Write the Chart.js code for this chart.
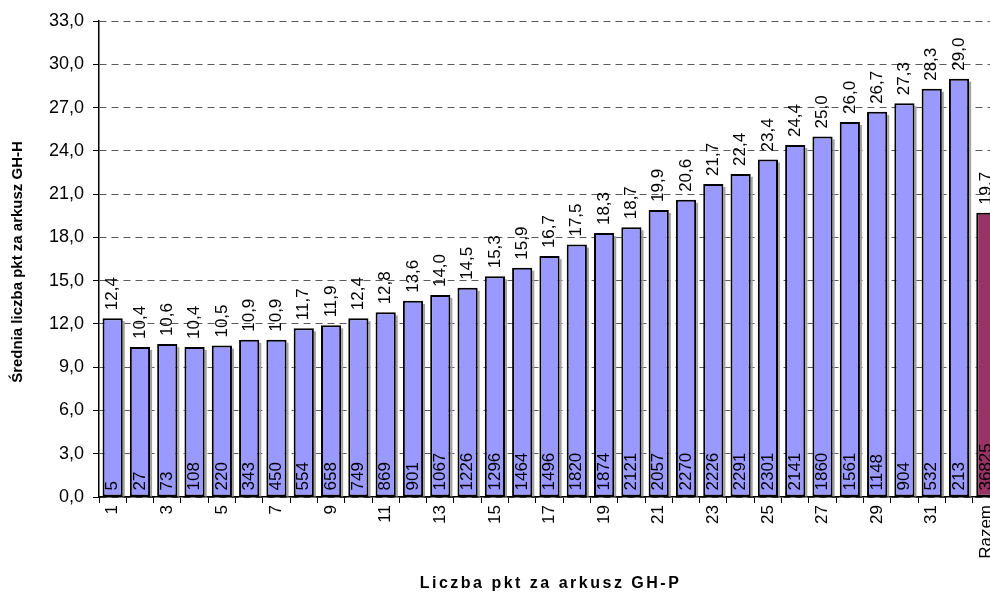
<!DOCTYPE html>
<html>
<head>
<meta charset="utf-8">
<script src="https://cdn.jsdelivr.net/npm/chart.js@4/dist/chart.umd.min.js"></script>
<style>
html,body{margin:0;padding:0;background:#fff;overflow:hidden;width:990px;height:592px;}
#wrap{position:absolute;left:0;top:0;width:1010px;height:592px;}
</style>
</head>
<body>
<div id="wrap"><canvas id="c" width="1010" height="592"></canvas></div>
<script>
const categories = ['1','2','3','4','5','6','7','8','9','10','11','12','13','14','15','16','17','18','19','20','21','22','23','24','25','26','27','28','29','30','31','32','Razem'];
const averages = [12.4,10.4,10.6,10.4,10.5,10.9,10.9,11.7,11.9,12.4,12.8,13.6,14.0,14.5,15.3,15.9,16.7,17.5,18.3,18.7,19.9,20.6,21.7,22.4,23.4,24.4,25.0,26.0,26.7,27.3,28.3,29.0,19.7];
const counts = [5,27,73,108,220,343,450,554,658,749,869,901,1067,1226,1296,1464,1496,1820,1874,2121,2057,2270,2226,2291,2301,2141,1860,1561,1148,904,532,213,36825];
const yTicks = [0,3,6,9,12,15,18,21,24,27,30,33];
const xTitle = 'Liczba pkt za arkusz GH-P';
const yTitle = 'Średnia liczba pkt za arkusz GH-H';

const fmt = v => v.toFixed(1).replace('.', ',');
const barColors = categories.map(c => c === 'Razem' ? '#993366' : '#9999FF');

const shadowPlugin = {
  id: 'shadow',
  beforeDatasetsDraw(chart) {
    const ctx = chart.ctx;
    const meta = chart.getDatasetMeta(0);
    ctx.save();
    ctx.fillStyle = '#a0a0a0';
    meta.data.forEach(el => {
      const w = el.width;
      ctx.fillRect(el.x + w / 2, el.y + 3, 2, el.base - el.y - 3);
    });
    ctx.restore();
  }
};

const labelPlugin = {
  id: 'labels',
  afterDatasetsDraw(chart) {
    const ctx = chart.ctx;
    const meta = chart.getDatasetMeta(0);
    ctx.save();
    ctx.fillStyle = '#000';
    ctx.font = '17px Arial, "Liberation Sans", sans-serif';
    ctx.textBaseline = 'middle';
    ctx.textAlign = 'left';
    meta.data.forEach((el, i) => {
      ctx.save();
      ctx.translate(el.x, el.y - 8);
      ctx.rotate(-Math.PI / 2);
      ctx.fillText(fmt(averages[i]), 0, 0);
      ctx.restore();
      ctx.save();
      ctx.translate(el.x, el.base - 6);
      ctx.rotate(-Math.PI / 2);
      ctx.fillText(String(counts[i]), 0, 0);
      ctx.restore();
    });
    ctx.restore();
  }
};

const titlePlugin = {
  id: 'titles',
  afterDraw(chart) {
    const ctx = chart.ctx;
    const a = chart.chartArea;
    ctx.save();
    ctx.fillStyle = '#000';
    ctx.font = 'bold 16px Arial, "Liberation Sans", sans-serif';
    ctx.textAlign = 'center';
    ctx.textBaseline = 'middle';
    ctx.letterSpacing = '2.5px';
    ctx.fillText(xTitle, (a.left + a.right) / 2 + 1, 584);
    ctx.letterSpacing = '0px';
    ctx.font = 'bold 15px Arial, "Liberation Sans", sans-serif';
    ctx.translate(18, (a.top + a.bottom) / 2 + 3);
    ctx.rotate(-Math.PI / 2);
    ctx.fillText(yTitle, 0, 0);
    ctx.restore();
  }
};

new Chart(document.getElementById('c'), {
  type: 'bar',
  data: {
    labels: categories,
    datasets: [{
      data: averages,
      backgroundColor: barColors,
      borderColor: '#000',
      borderWidth: 2,
      borderSkipped: false,
      barPercentage: 0.74,
      categoryPercentage: 1.0
    }]
  },
  options: {
    responsive: false,
    animation: false,
    devicePixelRatio: 1,
    layout: { padding: { left: 0, top: 21, right: 10, bottom: 0 } },
    plugins: { legend: { display: false }, tooltip: { enabled: false } },
    scales: {
      x: {
        type: 'category',
        offset: true,
        afterFit(scale) { scale.height = 95; },
        grid: { display: true, drawOnChartArea: false, offset: true, tickLength: 6, color: '#000', lineWidth: 1 },
        border: { display: true, color: '#000', width: 1.5 },
        ticks: {
          autoSkip: false,
          maxRotation: 90,
          minRotation: 90,
          padding: 2,
          color: '#000',
          font: { family: 'Arial, "Liberation Sans", sans-serif', size: 17 },
          callback: (v, i) => (i % 2 === 0 ? categories[i] : '')
        }
      },
      y: {
        min: 0,
        max: 33,
        afterFit(scale) { scale.width = 99; },
        afterBuildTicks(scale) { scale.ticks = yTicks.map(v => ({ value: v })); },
        grid: { display: true, drawOnChartArea: true, tickLength: 6, color: '#5a5a5a', tickColor: '#000', lineWidth: 1 },
        border: { display: true, color: '#000', width: 1.5, dash: [7, 5] },
        ticks: {
          padding: 9,
          color: '#000',
          font: { family: 'Arial, "Liberation Sans", sans-serif', size: 18 },
          callback: v => fmt(v)
        }
      }
    }
  },
  plugins: [shadowPlugin, labelPlugin, titlePlugin]
});
</script>
</body>
</html>
